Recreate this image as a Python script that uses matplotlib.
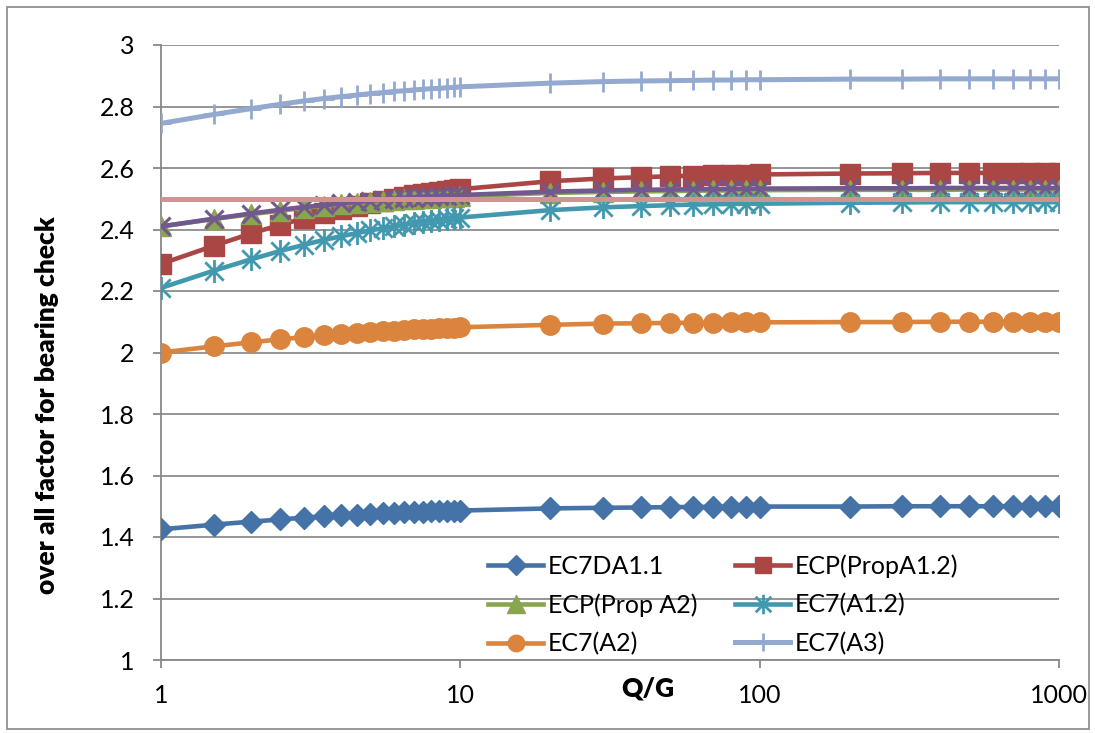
import matplotlib
matplotlib.use("Agg")
import matplotlib.pyplot as plt
from matplotlib.path import Path
from matplotlib.patches import Rectangle

plt.rcParams['font.family'] = ['Lato', 'DejaVu Sans']

# Q/G values
qg = [1, 1.5, 2, 2.5, 3, 3.5, 4, 4.5, 5, 5.5, 6, 6.5, 7, 7.5, 8, 8.5, 9, 9.5, 10,
      20, 30, 40, 50, 60, 70, 80, 90, 100,
      200, 300, 400, 500, 600, 700, 800, 900, 1000]

ec7_da11 = [1.425, 1.44, 1.45, 1.457, 1.463, 1.467, 1.47, 1.473, 1.475, 1.477, 1.479, 1.48,
            1.481, 1.482, 1.483, 1.484, 1.485, 1.486, 1.486,
            1.493, 1.495, 1.496, 1.497, 1.498, 1.498, 1.498, 1.498, 1.499,
            1.499, 1.5, 1.5, 1.5, 1.5, 1.5, 1.5, 1.5, 1.5]
ecp_prop_a12 = [2.288, 2.347, 2.387, 2.415, 2.436, 2.453, 2.466, 2.477, 2.486, 2.493, 2.5,
                2.506, 2.511, 2.515, 2.519, 2.522, 2.526, 2.528, 2.531,
                2.557, 2.566, 2.57, 2.573, 2.575, 2.577, 2.578, 2.578, 2.579,
                2.582, 2.583, 2.584, 2.584, 2.584, 2.584, 2.584, 2.584, 2.584]
ecp_prop_a2 = [2.41, 2.434, 2.45, 2.461, 2.47, 2.477, 2.482, 2.486, 2.49, 2.493, 2.496,
               2.498, 2.5, 2.502, 2.503, 2.505, 2.506, 2.507, 2.508,
               2.519, 2.522, 2.524, 2.525, 2.526, 2.527, 2.527, 2.527, 2.528,
               2.529, 2.529, 2.529, 2.53, 2.53, 2.53, 2.53, 2.53, 2.53]
purple_series = [2.41, 2.435, 2.452, 2.464, 2.473, 2.479, 2.485, 2.49, 2.493, 2.497, 2.499,
                 2.502, 2.504, 2.506, 2.507, 2.509, 2.51, 2.511, 2.512,
                 2.523, 2.527, 2.529, 2.53, 2.531, 2.531, 2.532, 2.532, 2.533,
                 2.534, 2.534, 2.535, 2.535, 2.535, 2.535, 2.535, 2.535, 2.535]
ec7_a12 = [2.21, 2.266, 2.303, 2.33, 2.35, 2.366, 2.378, 2.388, 2.397, 2.404, 2.41,
           2.415, 2.42, 2.424, 2.428, 2.431, 2.434, 2.437, 2.439,
           2.463, 2.472, 2.476, 2.479, 2.481, 2.482, 2.483, 2.484, 2.484,
           2.487, 2.488, 2.489, 2.489, 2.489, 2.489, 2.489, 2.489, 2.489]
ec7_a2 = [2.0, 2.02, 2.033, 2.043, 2.05, 2.056, 2.06, 2.064, 2.067, 2.069, 2.071,
          2.073, 2.075, 2.076, 2.078, 2.079, 2.08, 2.081, 2.082,
          2.09, 2.094, 2.095, 2.096, 2.097, 2.097, 2.098, 2.098, 2.098,
          2.099, 2.099, 2.1, 2.1, 2.1, 2.1, 2.1, 2.1, 2.1]
ec7_a3 = [2.745, 2.774, 2.793, 2.807, 2.818, 2.826, 2.832, 2.837, 2.842, 2.845, 2.849,
          2.851, 2.854, 2.856, 2.858, 2.859, 2.861, 2.862, 2.864,
          2.876, 2.881, 2.883, 2.884, 2.885, 2.886, 2.886, 2.887, 2.887,
          2.889, 2.889, 2.89, 2.89, 2.89, 2.89, 2.89, 2.89, 2.89]
pink_x = [1, 1000]
pink_y = [2.5, 2.5]

y_ticks = [1, 1.2, 1.4, 1.6, 1.8, 2, 2.2, 2.4, 2.6, 2.8, 3]
y_labels = ['1', '1.2', '1.4', '1.6', '1.8', '2', '2.2', '2.4', '2.6', '2.8', '3']
x_ticks = [1, 10, 100, 1000]
x_labels = ['1', '10', '100', '1000']

# excel "star" marker: an x with a vertical bar
star = Path([(-1, -1), (1, 1), (-1, 1), (1, -1), (0, -1.25), (0, 1.25)],
            [Path.MOVETO, Path.LINETO, Path.MOVETO, Path.LINETO, Path.MOVETO, Path.LINETO])

fig = plt.figure(figsize=(10.95, 7.33), dpi=100)
ax = fig.add_axes([161 / 1095, 1 - 660 / 733, (1059 - 161) / 1095, (660 - 45) / 733])

lw = 3.3
h1, = ax.plot(qg, ec7_da11, color='#4572A7', lw=lw, marker='D', ms=11.5, label='EC7DA1.1', zorder=3)
h2, = ax.plot(qg, ecp_prop_a12, color='#AA4643', lw=lw, marker='s', ms=14, label='ECP(PropA1.2)', zorder=4)
h3, = ax.plot(qg, ecp_prop_a2, color='#89A54E', lw=lw, marker='^', ms=14.5, label='ECP(Prop A2)', zorder=5)
ax.plot(qg, purple_series, color='#71588F', lw=lw, marker='x', ms=13.5, mew=2.2, zorder=6)
h5, = ax.plot(qg, ec7_a12, color='#4198AF', lw=lw, marker=star, ms=16.5, mew=2, mfc='none',
              label='EC7(A1.2)', zorder=7)
h6, = ax.plot(qg, ec7_a2, color='#DB843D', lw=lw, marker='o', ms=14, label='EC7(A2)', zorder=8)
h7, = ax.plot(qg, ec7_a3, color='#93A9CF', lw=3.6, marker='+', ms=14.5, mew=2, label='EC7(A3)', zorder=9)
ax.plot(pink_x, pink_y, color='#D19392', lw=3.6, zorder=10)

ax.set_xscale('log')
ax.set_xlim(1, 1000)
ax.set_ylim(1, 3)
ax.set_xticks(x_ticks)
ax.set_xticklabels(x_labels)
ax.minorticks_off()
ax.set_yticks(y_ticks)
ax.set_yticklabels(y_labels)
ax.tick_params(axis='both', labelsize=18, colors='#888888', labelcolor='black', length=6, width=1.3)
ax.tick_params(axis='x', pad=11)
ax.tick_params(axis='y', pad=13)
ax.grid(axis='y', color='#8c8c8c', lw=1.3)
ax.set_axisbelow(True)
for s in ['top', 'right']:
    ax.spines[s].set_visible(False)
for s in ['left', 'bottom']:
    ax.spines[s].set_color('#888888')
    ax.spines[s].set_linewidth(1.3)

fig.text(47 / 1095, 1 - 405 / 733, 'over all factor for bearing check', rotation=90,
         fontsize=19, fontweight='heavy', ha='center', va='center')
fig.text(648 / 1095, 1 - 688 / 733, 'Q/G', fontsize=19, fontweight='heavy', ha='center', va='center')

ax.legend([h1, h3, h6, h2, h5, h7],
          ['EC7DA1.1', 'ECP(Prop A2)', 'EC7(A2)', 'ECP(PropA1.2)', 'EC7(A1.2)', 'EC7(A3)'],
          ncol=2, frameon=False, fontsize=18, loc='upper left',
          bbox_to_anchor=(488 / 1095, 1 - 554 / 733), bbox_transform=fig.transFigure,
          borderaxespad=0, borderpad=0, handlelength=2.2, handletextpad=0.2,
          columnspacing=1.5, labelspacing=0.62, markerscale=0.85)

fig.add_artist(Rectangle((7 / 1095, 4 / 733), 1082 / 1095, 722 / 733, transform=fig.transFigure,
                         fill=False, edgecolor='#888888', lw=1.2))

fig.savefig('out.png', dpi=100)
